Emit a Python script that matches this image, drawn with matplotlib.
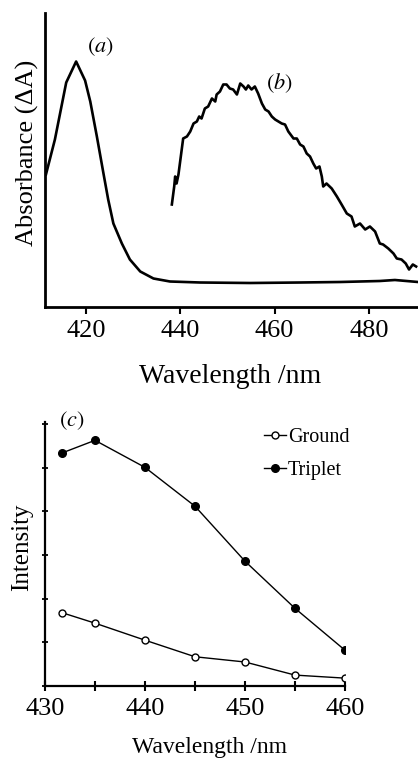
import matplotlib
matplotlib.use('Agg')
import matplotlib.pyplot as plt
from matplotlib.ticker import MultipleLocator, NullFormatter

plt.rcParams['font.family'] = ['Liberation Serif', 'DejaVu Serif']
plt.rcParams['mathtext.fontset'] = 'stix'

# --- panel (a)/(b): transient absorbance spectra (arbitrary units) ---
wl_a = [411.5, 413.4, 415.8, 417.9, 419.8, 420.9, 422.3, 423.7, 424.7, 425.8,
        427.6, 429.3, 431.5, 434.3, 437.8, 444.2, 454.8, 465.4, 473.9, 478.1,
        482.3, 485.5, 490.4]
abs_a = [1.32, 1.67, 2.24, 2.45, 2.26, 2.05, 1.70, 1.33, 1.07, 0.83,
         0.63, 0.47, 0.35, 0.28, 0.25, 0.24, 0.235, 0.24, 0.245, 0.25,
         0.255, 0.265, 0.245]

wl_b = [438.2, 438.7, 438.9, 439.2, 439.6, 440.1, 440.6, 441.4, 442.1, 442.8,
        443.5, 444.0, 444.5, 445.2, 445.9, 446.7, 447.4, 447.7, 448.4, 449.1,
        449.8, 450.5, 451.2, 452.0, 452.7, 453.4, 453.9, 454.4, 455.1, 455.8,
        456.5, 457.3, 458.0, 458.7, 459.4, 460.1, 460.8, 461.5, 462.2, 462.9,
        464.0, 464.7, 465.4, 466.1, 466.8, 467.5, 468.2, 468.8, 469.5, 470.0,
        470.3, 471.0, 472.1, 473.2, 474.2, 475.3, 476.3, 477.0, 478.1, 479.2,
        480.2, 481.3, 482.3, 483.0, 484.1, 485.2, 485.9, 486.9, 487.8, 488.5,
        489.3, 490.0]
abs_b = [1.02, 1.20, 1.30, 1.23, 1.32, 1.50, 1.68, 1.70, 1.75, 1.83,
         1.85, 1.90, 1.88, 1.98, 2.00, 2.08, 2.05, 2.12, 2.15, 2.22,
         2.22, 2.18, 2.17, 2.12, 2.23, 2.20, 2.17, 2.21, 2.17, 2.20,
         2.13, 2.03, 1.97, 1.95, 1.90, 1.87, 1.85, 1.83, 1.82, 1.75,
         1.68, 1.68, 1.62, 1.60, 1.53, 1.50, 1.43, 1.38, 1.40, 1.30,
         1.20, 1.23, 1.18, 1.10, 1.02, 0.93, 0.90, 0.80, 0.83, 0.77,
         0.80, 0.75, 0.63, 0.62, 0.58, 0.53, 0.48, 0.47, 0.43, 0.37,
         0.42, 0.40]

# --- panel (c): intensity vs wavelength ---
wl_c = [431.7, 435, 440, 445, 450, 455, 460]
ground = [1.68, 1.44, 1.05, 0.67, 0.55, 0.25, 0.18]
triplet = [5.34, 5.63, 5.01, 4.12, 2.86, 1.78, 0.82]

W, H = 418, 767
fig = plt.figure(figsize=(W / 100, H / 100), dpi=100)

# top panel
ax1 = fig.add_axes([45 / W, 1 - 306.5 / H, (W - 45) / W, 293.5 / H])
ax1.plot(wl_a, abs_a, color='black', linewidth=1.9)
ax1.plot(wl_b, abs_b, color='black', linewidth=1.9)
ax1.set_xlim(411.3, 490.4)
ax1.set_ylim(0, 2.935)
ax1.set_xticks([420, 440, 460, 480])
ax1.set_yticks([])
for s in ['top', 'right']:
    ax1.spines[s].set_visible(False)
for s in ['left', 'bottom']:
    ax1.spines[s].set_linewidth(2)
ax1.tick_params(axis='x', direction='out', length=5, width=1.5, pad=5, labelsize=19)
ax1.set_xlabel('Wavelength /nm', fontsize=20)
ax1.xaxis.label.set_verticalalignment('center')
ax1.xaxis.set_label_coords(0.496, -0.24)
ax1.set_ylabel('Absorbance (ΔA)', fontsize=19)
ax1.yaxis.label.set_verticalalignment('center')
ax1.yaxis.set_label_coords(-0.046, 0.525)
ax1.text(100.5 / W, 1 - 47 / H, r'$(a)$', transform=fig.transFigure,
         fontsize=16, ha='center', va='center')
ax1.text(279 / W, 1 - 83 / H, r'$(b)$', transform=fig.transFigure,
         fontsize=16, ha='center', va='center')

# bottom panel
ax2 = fig.add_axes([45 / W, 1 - 686 / H, 300 / W, 264 / H])
ax2.plot(wl_c, ground, color='black', linewidth=1.0, marker='o', markersize=5,
         markerfacecolor='white', markeredgecolor='black', markeredgewidth=1,
         label='Ground')
ax2.plot(wl_c, triplet, color='black', linewidth=1.0, marker='o', markersize=5.5,
         markerfacecolor='black', markeredgecolor='black', label='Triplet')
ax2.set_xlim(430, 460)
ax2.set_ylim(0, 6.05)
ax2.xaxis.set_major_locator(MultipleLocator(10))
ax2.xaxis.set_minor_locator(MultipleLocator(5))
ax2.yaxis.set_major_locator(MultipleLocator(1))
ax2.yaxis.set_major_formatter(NullFormatter())
for s in ['top', 'right']:
    ax2.spines[s].set_visible(False)
for s in ['left', 'bottom']:
    ax2.spines[s].set_linewidth(1.6)
ax2.tick_params(axis='x', which='both', direction='inout', length=7, width=1.5,
                pad=5, labelsize=19)
ax2.tick_params(axis='y', direction='inout', length=4, width=1.3)
ax2.set_xlabel('Wavelength /nm', fontsize=17)
ax2.xaxis.label.set_verticalalignment('center')
ax2.xaxis.set_label_coords(0.55, -0.234)
ax2.set_ylabel('Intensity', fontsize=18)
ax2.yaxis.label.set_verticalalignment('center')
ax2.yaxis.set_label_coords(-0.077, 0.525)
ax2.text(72 / W, 1 - 421 / H, r'$(c)$', transform=fig.transFigure,
         fontsize=16, ha='center', va='center')
ax2.legend(loc='upper left', bbox_to_anchor=(264 / W, 1 - 428 / H),
           bbox_transform=fig.transFigure, frameon=False, fontsize=14.5,
           handlelength=1.1, handletextpad=0.1, labelspacing=0.7,
           borderpad=0, borderaxespad=0, numpoints=1)

fig.savefig('out.png', dpi=100)
plt.close(fig)
